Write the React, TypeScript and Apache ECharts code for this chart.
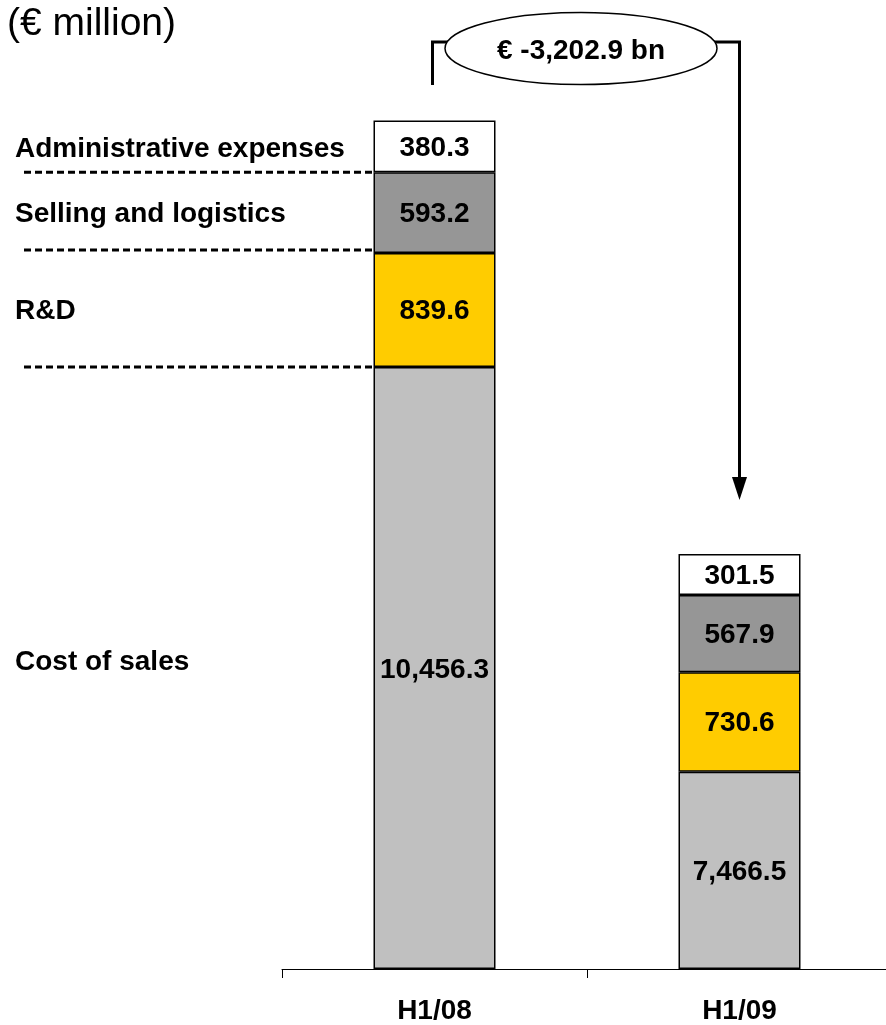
import React, { useEffect, useRef } from "react";
import * as echarts from "echarts";

const categories = ["H1/08", "H1/09"];
// Values printed on the segments (€ million)
const costOfSales = [10456.3, 7466.5];
const rnd = [839.6, 730.6];
const selling = [593.2, 567.9];
const admin = [380.3, 301.5];
// The reference compresses the cost-of-sales segment (broken scale);
// its drawn height in the same units as the other segments
const costOfSalesDrawn = [4426, 1451];
const segmentNames = ["Administrative expenses", "Selling and logistics", "R&D", "Cost of sales"];
const unitTitle = "(€ million)";

const FONT = "'Liberation Sans', Arial, Helvetica, sans-serif";

function fmt(v: number) {
  return v.toLocaleString("en-US", { minimumFractionDigits: 1, maximumFractionDigits: 1 });
}

export default function App() {
  const ref = useRef<HTMLDivElement>(null);
  useEffect(() => {
    const chart = echarts.init(ref.current!, null, { renderer: "svg" });
    const mk = (name: string, drawn: number[], shown: number[], color: string) => ({
      name,
      type: "bar",
      stack: "total",
      data: drawn,
      barWidth: 122,
      itemStyle: { color, borderColor: "#000", borderWidth: 1.5 },
      label: {
        show: true,
        position: "inside",
        formatter: (p: any) => fmt(shown[p.dataIndex]),
        color: "#000",
        fontWeight: "bold",
        fontSize: 28,
        fontFamily: FONT,
      },
      emphasis: { disabled: true },
    });
    chart.setOption({
      animation: false,
      grid: { left: 282, width: 610, top: 17, bottom: 56, outerBoundsMode: "none", containLabel: false },
      xAxis: {
        type: "category",
        data: categories,
        axisLine: { lineStyle: { color: "#000", width: 1 } },
        axisTick: { show: true, length: 9, lineStyle: { color: "#000", width: 1 } },
        axisLabel: { color: "#000", fontWeight: "bold", fontSize: 28, fontFamily: FONT, margin: 26 },
        splitLine: { show: false },
      },
      yAxis: { type: "value", min: 0, max: 7000, show: false, splitLine: { show: false } },
      series: [
        mk(segmentNames[3], costOfSalesDrawn, costOfSales, "#C0C0C0"),
        mk(segmentNames[2], rnd, rnd, "#FFCC00"),
        mk(segmentNames[1], selling, selling, "#969696"),
        mk(segmentNames[0], admin, admin, "#FFFFFF"),
      ],
    });

    const px = (ci: number, v: number) => chart.convertToPixel({ gridIndex: 0 }, [ci, v]) as number[];
    const b0 = costOfSalesDrawn[0];
    const b1 = b0 + rnd[0];
    const b2 = b1 + selling[0];
    const b3 = b2 + admin[0];
    const yOf = (v: number) => px(0, v)[1];
    const c0 = px(0, 0)[0];
    const c1 = px(1, 0)[0];
    const barLeft = c0 - 61;

    const total0 = costOfSales[0] + rnd[0] + selling[0] + admin[0];
    const total1 = costOfSales[1] + rnd[1] + selling[1] + admin[1];
    const diff = total1 - total0;
    const diffText = "€ -" + fmt(Math.abs(diff)) + " bn";

    const textStyle = (extra: any) => ({
      fill: "#000",
      fontFamily: FONT,
      fontSize: 28,
      fontWeight: "bold",
      verticalAlign: "middle",
      ...extra,
    });
    const dashed = (y: number) => ({
      type: "line",
      shape: { x1: 24, y1: y, x2: barLeft, y2: y },
      style: { stroke: "#000", lineWidth: 3, lineDash: [7, 4] },
    });
    const ex = 581;
    const ey = 48.5;
    const bracketY = 42;

    chart.setOption({
      graphic: [
        { type: "text", x: 7, y: 21, style: textStyle({ text: unitTitle, fontSize: 39, fontWeight: "normal" }) },
        { type: "text", x: 15, y: (yOf(b2) + yOf(b3)) / 2 + 1, style: textStyle({ text: segmentNames[0] }) },
        { type: "text", x: 15, y: (yOf(b1) + yOf(b2)) / 2, style: textStyle({ text: segmentNames[1] }) },
        { type: "text", x: 15, y: (yOf(b0) + yOf(b1)) / 2, style: textStyle({ text: segmentNames[2] }) },
        { type: "text", x: 15, y: (yOf(0) + yOf(b0)) / 2 - 8, style: textStyle({ text: segmentNames[3] }) },
        dashed(yOf(b2)),
        dashed(yOf(b1) - 3),
        dashed(yOf(b0)),
        {
          type: "polyline",
          shape: { points: [[c0 - 2, 85], [c0 - 2, bracketY], [ex - 130, bracketY]] },
          style: { stroke: "#000", lineWidth: 3, fill: null },
        },
        {
          type: "polyline",
          shape: { points: [[ex + 130, bracketY], [c1, bracketY], [c1, 478]] },
          style: { stroke: "#000", lineWidth: 3, fill: null },
        },
        {
          type: "polygon",
          shape: { points: [[c1 - 7.5, 477], [c1 + 7.5, 477], [c1, 500]] },
          style: { fill: "#000" },
        },
        {
          type: "ellipse",
          shape: { cx: ex, cy: ey, rx: 136, ry: 36 },
          style: { fill: "#fff", stroke: "#000", lineWidth: 1.5 },
        },
        { type: "text", x: ex, y: ey + 1, style: textStyle({ text: diffText, align: "center" }) },
      ],
    });
    return () => chart.dispose();
  }, []);
  return <div ref={ref} style={{ position: "fixed", left: 0, top: 0, width: 886, height: 1025 }} />;
}
